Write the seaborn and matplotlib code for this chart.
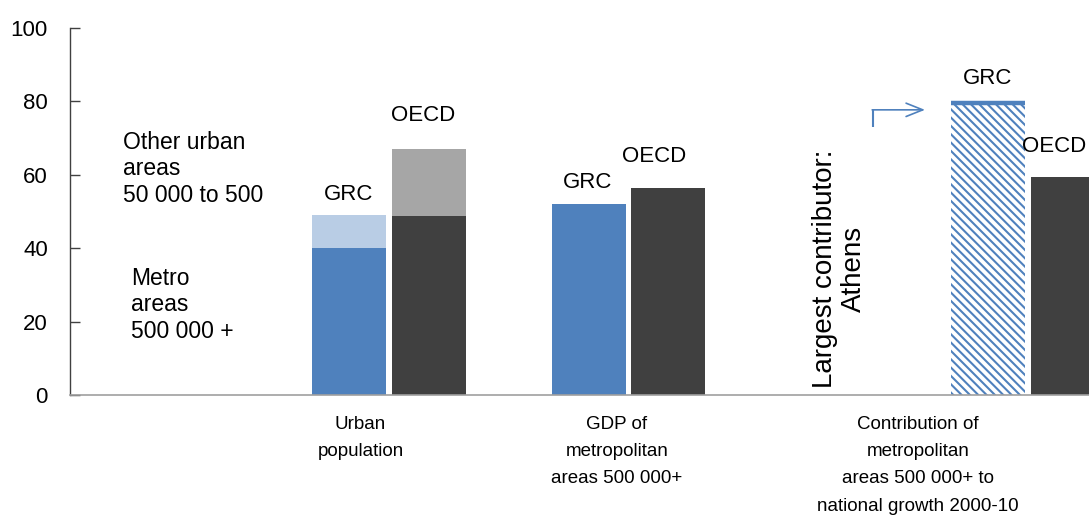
import numpy as np
import pandas as pd
import matplotlib
matplotlib.use("Agg")
import matplotlib.pyplot as plt
import seaborn as sns

# Values (%)
categories = ["Urban\npopulation",
              "GDP of\nmetropolitan\nareas 500 000+",
              "Contribution of\nmetropolitan\nareas 500 000+ to\nnational growth 2000-10"]
series = ["GRC", "OECD"]
grc_metro = [40.0, 52.0, 79.7]
grc_other = [9.0, 0.0, 0.0]
oecd_metro = [48.8, 56.3, 59.5]
oecd_other = [18.2, 0.0, 0.0]

# layout: x axis in units of ~100 px
group_x = np.array([3.19, 5.59, 9.58])
label_x = [2.905, 5.47, 8.48]
grc_x = group_x - 0.40
oecd_x = group_x + 0.395
bar_w = 0.74

blue, light_blue = "#4F81BD", "#B9CDE5"
dark, light_gray = "#404040", "#A6A6A6"

sns.set_theme(style="white")
plt.rcParams["font.family"] = ["Liberation Sans", "DejaVu Sans"]
plt.rcParams["text.color"] = "black"
plt.rcParams["hatch.linewidth"] = 1.5

fig = plt.figure(figsize=(10.89, 5.15), dpi=100)
ax = fig.add_axes([70 / 1089, 120 / 515, 1019 / 1089, 367 / 515])

pos = np.concatenate([grc_x, oecd_x])
kind = ["GRC"] * 3 + ["OECD"] * 3
totals = pd.DataFrame({"x": pos, "kind": kind,
                       "y": np.add(grc_metro + oecd_metro, grc_other + oecd_other)})
metro = pd.DataFrame({"x": pos, "kind": kind, "y": grc_metro + oecd_metro})
rel_w = bar_w / np.min(np.diff(np.sort(pos)))

sns.barplot(data=totals, x="x", y="y", hue="kind", native_scale=True, dodge=False,
            palette={"GRC": light_blue, "OECD": light_gray}, width=rel_w,
            saturation=1, errorbar=None, legend=False, linewidth=0, ax=ax)
sns.barplot(data=metro, x="x", y="y", hue="kind", native_scale=True, dodge=False,
            palette={"GRC": blue, "OECD": dark}, width=rel_w,
            saturation=1, errorbar=None, legend=False, linewidth=0, ax=ax)

# hatched GRC bar for the contribution
for p in ax.patches:
    cx = p.get_x() + p.get_width() / 2
    if abs(cx - grc_x[2]) < 0.05:
        p.set_facecolor("white")
        p.set_edgecolor(blue)
        p.set_hatch("\\\\\\\\")
        p.set_linewidth(0)
ax.hlines(grc_metro[2], grc_x[2] - bar_w / 2, grc_x[2] + bar_w / 2,
          color=blue, lw=3.2)

ax.set_xlim(0, 10.19)
ax.set_ylim(0, 100)
ax.set_yticks(range(0, 101, 20))
ax.set_xticks([])
ax.set_xlabel("")
ax.set_ylabel("")
ax.tick_params(axis="y", direction="in", length=7, width=1, color="#404040",
               pad=16, labelsize=16, labelcolor="black", left=True)
for s in ["top", "right"]:
    ax.spines[s].set_visible(False)
ax.spines["left"].set_color("#404040")
ax.spines["bottom"].set_color("#A0A0A0")
ax.spines["left"].set_linewidth(1)
ax.spines["bottom"].set_linewidth(1.2)

# category labels below the axis
for lx, lab in zip(label_x, categories):
    ax.text(lx, -5.6, lab, ha="center", va="top", fontsize=13.5,
            linespacing=1.8, clip_on=False)

# series labels above bars
fs = 16
ax.text(grc_x[0], 53.1, series[0], ha="center", va="baseline", fontsize=fs)
ax.text(oecd_x[0] - 0.05, 74.7, series[1], ha="center", va="baseline", fontsize=fs)
ax.text(grc_x[1] - 0.015, 56.4, series[0], ha="center", va="baseline", fontsize=fs)
ax.text(oecd_x[1] - 0.14, 63.5, series[1], ha="center", va="baseline", fontsize=fs)
ax.text(grc_x[2], 84.7, series[0], ha="center", va="baseline", fontsize=fs)
ax.text(9.52, 66.2, series[1], ha="left", va="baseline", fontsize=fs, clip_on=False)

# left-hand notes
ax.text(0.53, 61.6, "Other urban\nareas\n50 000 to 500", ha="left", va="center",
        fontsize=16.5, linespacing=1.2)
ax.text(0.61, 24.6, "Metro\nareas\n500 000 +", ha="left", va="center",
        fontsize=16.5, linespacing=1.2)

# rotated note + arrow
ax.text(7.69, 34.4, "Largest contributor:\nAthens", rotation=90, ha="center",
        va="center", multialignment="center", fontsize=20, linespacing=1.15)
ax.plot([8.03, 8.03], [73.0, 77.7], color=blue, lw=1.5, solid_capstyle="butt")
ax.annotate("", xy=(8.55, 77.7), xytext=(8.022, 77.7),
            arrowprops=dict(arrowstyle="->,head_length=1.0,head_width=0.4",
                            color=blue, lw=1.2, shrinkA=0, shrinkB=0))

fig.savefig("out.png", dpi=100)
